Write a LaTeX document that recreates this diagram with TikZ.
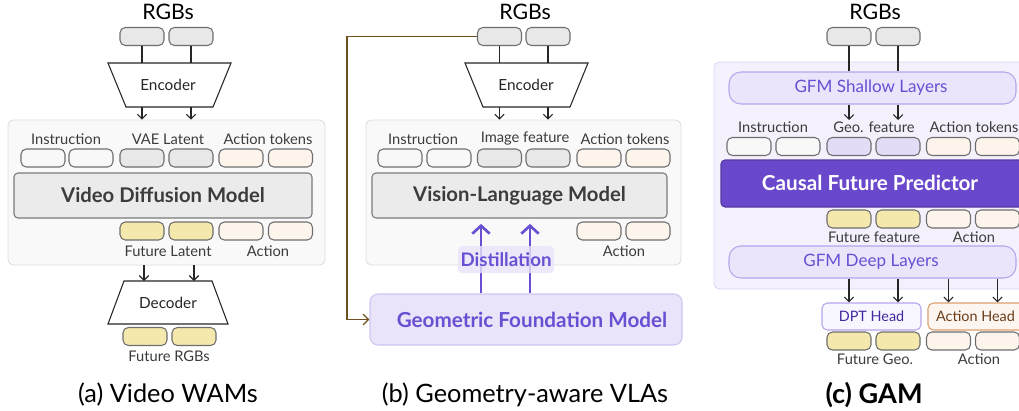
\documentclass[tikz,border=0pt]{standalone}
\usepackage{fontspec}
\setmainfont{Lato}
\usetikzlibrary{arrows.meta,fit,calc}
\newcommand\fsz[1]{\fontsize{#1}{#1}\selectfont}
\definecolor{txt}{HTML}{3C3C3C}
\definecolor{tokb}{HTML}{6E6E6E}
\definecolor{tgray}{HTML}{E8E8E8}
\definecolor{twhite}{HTML}{F8F8F8}
\definecolor{tpeach}{HTML}{FDF4EC}
\definecolor{tyellow}{HTML}{F4E8AC}
\definecolor{tlav}{HTML}{E2DCF7}
\definecolor{obox}{HTML}{F9F9F9}
\definecolor{oboxb}{HTML}{DDDDDD}
\definecolor{mbox}{HTML}{EBEBEB}
\definecolor{mboxb}{HTML}{7A7A7A}
\definecolor{purp}{HTML}{6B4FD3}
\definecolor{purpbox}{HTML}{6A48CC}
\definecolor{gfmfill}{HTML}{E9E4FA}
\definecolor{gfmdraw}{HTML}{CFC4F2}
\definecolor{cfill}{HTML}{F4F1FD}
\definecolor{cdraw}{HTML}{DCD5F6}
\definecolor{layfill}{HTML}{EBE5FC}
\definecolor{laydraw}{HTML}{B8A5EC}
\definecolor{dptfill}{HTML}{F8F6FF}
\definecolor{dpttxt}{HTML}{4527A0}
\definecolor{ahfill}{HTML}{FDF6F0}
\definecolor{ahdraw}{HTML}{D9A070}
\definecolor{ahtxt}{HTML}{6B3D1A}
\definecolor{brownl}{HTML}{6E5020}
\tikzset{
  tok/.style={draw=tokb, line width=0.8pt, rounded corners=4pt, minimum width=33pt, minimum height=13.5pt, inner sep=0pt},
  lbl/.style={text=txt, font=\fsz{11}, inner sep=0pt},
  ttl/.style={text=black, font=\fsz{16}, inner sep=0pt},
  captxt/.style={text=black, font=\fsz{19}, inner sep=0pt},
  trap/.style={draw=black!85, fill=white, line width=0.8pt},
  trtext/.style={text=black!85, font=\fsz{11.5}, inner sep=0pt},
  outer/.style={draw=oboxb, fill=obox, line width=0.6pt, rounded corners=4pt, inner sep=0pt},
  model/.style={draw=mboxb, fill=mbox, line width=0.8pt, rounded corners=3pt, inner sep=0pt},
  mtext/.style={text=txt, font=\fsz{15.2}\bfseries, inner sep=0pt},
  plainline/.style={draw=black!85, line width=0.8pt},
  arr/.style={draw=black!85, line width=0.8pt, -{Straight Barb[length=3.5pt,width=7pt]}},
  parr/.style={draw=purp, line width=2pt, -{Straight Barb[length=6pt,width=13pt,line width=2pt]}},
  layer/.style={draw=laydraw, fill=layfill, line width=0.8pt, rounded corners=9pt, inner sep=0pt},
  laytext/.style={text=purp, font=\fsz{12.8}, inner sep=0pt},
  headtext/.style={font=\fsz{10.8}, inner sep=0pt},
}
\begin{document}
\begin{tikzpicture}[x=0.75pt,y=-0.75pt]
\useasboundingbox (0,0) rectangle (1019,410);
\clip (0,0) rectangle (1019,410);
\fill[white] (0,0) rectangle (1019,410);

% ================= (a) =================
\node[ttl] (aT) at (168,12) {RGBs};
\node[tok, fill=tgray] (ar1) at (142,36.5) {};
\node[tok, fill=tgray] (ar2) at (191,36.5) {};
\draw[trap] (108,63) -- (231,63) -- (213,107) -- (126,107) -- cycle;
\coordinate (aEncT) at (168,63);
\coordinate (aEncB) at (168,107);
\node[trtext] (aEnc) at (168,85) {Encoder};
\node[outer, fit={(8,120)(325,265)}] (aBox) {};
\draw[plainline] (ar1.south) -- (ar1.south |- aEncT);
\draw[plainline] (ar2.south) -- (ar2.south |- aEncT);
\draw[arr] (ar1.south |- aEncB) -- (ar1.south |- aBox.north);
\draw[arr] (ar2.south |- aEncB) -- (ar2.south |- aBox.north);
\node[lbl] (aL1) at (66,139) {Instruction};
\node[lbl] (aL2) at (168,139) {VAE Latent};
\node[lbl] (aL3) at (268,139) {Action tokens};
\node[tok, fill=twhite] (at1) at (43,158) {};
\node[tok, fill=twhite] (at2) at (91,158) {};
\node[tok, fill=tgray] (at3) at (142,158) {};
\node[tok, fill=tgray] (at4) at (191,158) {};
\node[tok, fill=tpeach] (at5) at (241,158) {};
\node[tok, fill=tpeach] (at6) at (290.5,158) {};
\node[model, fit={(14,173)(312,218)}] (vdm) {};
\node[mtext] at (vdm.center) {Video Diffusion Model};
\node[tok, fill=tyellow] (ab1) at (142,231) {};
\node[tok, fill=tyellow] (ab2) at (191,231) {};
\node[tok, fill=tpeach] (ab3) at (241,231) {};
\node[tok, fill=tpeach] (ab4) at (290.5,231) {};
\node[lbl] (aL4) at (168,251) {Future Latent};
\node[lbl] (aL5) at (268,251) {Action};
\draw[trap] (124,281) -- (212,281) -- (228,324) -- (108,324) -- cycle;
\coordinate (aDecT) at (168,281);
\node[trtext] (aDec) at (168,303) {Decoder};
\coordinate (ax1) at (144,300);
\coordinate (ax2) at (194,300);
\draw[arr] (ax1 |- aBox.south) -- (ax1 |- aDecT);
\draw[arr] (ax2 |- aBox.south) -- (ax2 |- aDecT);
\node[tok, fill=tyellow] (af1) at (145,336.5) {};
\node[tok, fill=tyellow] (af2) at (194,336.5) {};
\node[lbl] (aL6) at (169,356) {Future RGBs};
\node[captxt] (aCap) at (168,395) {(a) Video WAMs};

% ================= (b) =================
\node[ttl] (bT) at (525,12) {RGBs};
\node[tok, fill=tgray] (br1) at (499.5,36.5) {};
\node[tok, fill=tgray] (br2) at (548,36.5) {};
\draw[trap] (465,63) -- (588,63) -- (570,107) -- (483,107) -- cycle;
\coordinate (bEncT) at (526,63);
\coordinate (bEncB) at (526,107);
\node[trtext] (bEnc) at (526,85) {Encoder};
\node[outer, fit={(366,120)(681,265)}] (bBox) {};
\draw[plainline] (br1.south) -- (br1.south |- bEncT);
\draw[plainline] (br2.south) -- (br2.south |- bEncT);
\draw[arr] (br1.south |- bEncB) -- (br1.south |- bBox.north);
\draw[arr] (br2.south |- bEncB) -- (br2.south |- bBox.north);
\node[lbl] (bL1) at (423,139) {Instruction};
\node[lbl] (bL2) at (525,139) {Image feature};
\node[lbl] (bL3) at (625,139) {Action tokens};
\node[tok, fill=twhite] (bt1) at (400,158) {};
\node[tok, fill=twhite] (bt2) at (449,158) {};
\node[tok, fill=tgray] (bt3) at (499.5,158) {};
\node[tok, fill=tgray] (bt4) at (548,158) {};
\node[tok, fill=tpeach] (bt5) at (599,158) {};
\node[tok, fill=tpeach] (bt6) at (648,158) {};
\node[model, fit={(372,173)(667,218)}] (vlm) {};
\node[mtext] at (vlm.center) {Vision-Language Model};
\node[tok, fill=tpeach] (bb1) at (599,231) {};
\node[tok, fill=tpeach] (bb2) at (648,231) {};
\node[lbl] (bL4) at (624,251) {Action};
\node[draw=gfmdraw, fill=gfmfill, line width=0.8pt, rounded corners=6pt, inner sep=0pt, fit={(370,294)(682,345)}] (gfm) {};
\node[text=purp, font=\fsz{15.5}\bfseries, inner sep=0pt] at (532,320) {Geometric Foundation Model};
\coordinate (bx1) at (481,260);
\coordinate (bx2) at (530,260);
\draw[parr, shorten >=1pt] (bx1 |- gfm.north) -- ([yshift=-3pt]bx1 |- vlm.south);
\draw[parr, shorten >=1pt] (bx2 |- gfm.north) -- ([yshift=-3pt]bx2 |- vlm.south);
\node[fill=gfmfill, fill opacity=0.8, text opacity=1, rounded corners=3pt, inner sep=0pt, fit={(458,246)(554,273)}] (dist) {};
\node[text=purp, font=\fsz{14}\bfseries, inner sep=0pt] at (dist.center) {Distillation};
\draw[draw=brownl, line width=1pt, -{Straight Barb[length=4pt,width=8pt]}] (br1.west) -- ++(-130,0) |- (gfm.west);
\node[captxt] (bCap) at (525,395) {(b) Geometry-aware VLAs};

% ================= (c) =================
\node[ttl] (cT) at (875,12) {RGBs};
\node[tok, fill=tgray] (cr1) at (849,36.5) {};
\node[tok, fill=tgray] (cr2) at (898,36.5) {};
\node[draw=cdraw, fill=cfill, line width=0.6pt, rounded corners=4pt, inner sep=0pt, fit={(714,62)(1035,289)}] (cBox) {};
\node[layer, fit={(729,72)(1016,104)}] (shal) {};
\node[laytext] at (871,88) {GFM Shallow Layers};
\draw[plainline] (cr1.south) -- (cr1.south |- shal.north);
\draw[plainline] (cr2.south) -- (cr2.south |- shal.north);
\coordinate (cy1) at (870,120);
\draw[arr] (cr1.south |- shal.south) -- (cr1.south |- cy1);
\draw[arr] (cr2.south |- shal.south) -- (cr2.south |- cy1);
\node[lbl] (cL1) at (773,127) {Instruction};
\node[lbl] (cL2) at (874,127) {Geo. feature};
\node[lbl] (cL3) at (974,127) {Action tokens};
\node[tok, fill=twhite] (ct1) at (749,146.5) {};
\node[tok, fill=twhite] (ct2) at (798,146.5) {};
\node[tok, fill=tlav] (ct3) at (849,146.5) {};
\node[tok, fill=tlav] (ct4) at (898,146.5) {};
\node[tok, fill=tpeach] (ct5) at (948.5,146.5) {};
\node[tok, fill=tpeach] (ct6) at (997.5,146.5) {};
\node[draw=purpbox!80!black, fill=purpbox, line width=0.8pt, rounded corners=3pt, inner sep=0pt, fit={(721,160)(1035,207)}] (cfp) {};
\node[text=white, font=\fsz{15.5}\bfseries, inner sep=0pt] at (870,183) {Causal Future Predictor};
\node[tok, fill=tyellow] (cb1) at (849,219) {};
\node[tok, fill=tyellow] (cb2) at (898,219) {};
\node[tok, fill=tpeach] (cb3) at (948.5,219) {};
\node[tok, fill=tpeach] (cb4) at (997.5,219) {};
\node[lbl] (cL4) at (874,237) {Future feature};
\node[lbl] (cL5) at (974,237) {Action};
\node[layer, fit={(729,246)(1016,278)}] (deep) {};
\node[laytext] at (871,262) {GFM Deep Layers};
\node[draw=laydraw, fill=dptfill, line width=0.8pt, rounded corners=4pt, inner sep=0pt, fit={(822,303)(921,330)}] (dpt) {};
\node[headtext, text=dpttxt] at (dpt.center) {DPT Head};
\node[draw=ahdraw, fill=ahfill, line width=0.8pt, rounded corners=4pt, inner sep=0pt, fit={(928,303)(1035,330)}] (ahead) {};
\node[headtext, text=ahtxt] at (975.5,316.5) {Action Head};
\draw[arr] (cb1.south |- deep.south) -- (cb1.south |- dpt.north);
\draw[arr] (cb2.south |- deep.south) -- (cb2.south |- dpt.north);
\draw[arr] (cb3.south |- deep.south) -- (cb3.south |- ahead.north);
\draw[arr] (cb4.south |- deep.south) -- (cb4.south |- ahead.north);
\node[tok, fill=tyellow] (cf1) at (849,341) {};
\node[tok, fill=tyellow] (cf2) at (898,341) {};
\node[tok, fill=tpeach] (cf3) at (948.5,341) {};
\node[tok, fill=tpeach] (cf4) at (997.5,341) {};
\node[lbl] (cL6) at (875,359) {Future Geo.};
\node[lbl] (cL7) at (979,359) {Action};
\node[captxt, font=\fsz{20.3}\bfseries] (cCap) at (874,395) {(c) GAM};
\end{tikzpicture}
\end{document}
